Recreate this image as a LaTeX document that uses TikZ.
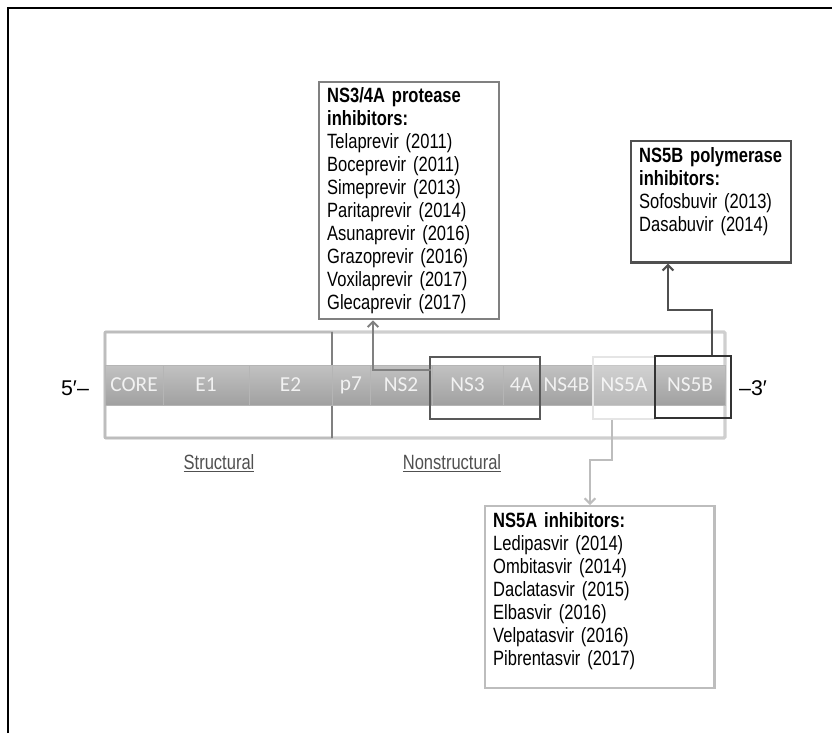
\documentclass[tikz,border=0pt]{standalone}
\usepackage{fontspec}
\setmainfont{Liberation Sans}
\newfontfamily\condfont[FakeStretch=0.8]{Liberation Sans}
\newfontfamily\genefont{Carlito}
\usetikzlibrary{arrows.meta}
\usetikzlibrary{positioning}
\definecolor{framegray}{HTML}{CFCFCF}
\definecolor{boxgray}{HTML}{808080}
\definecolor{darkgray}{HTML}{505050}
\definecolor{lightline}{HTML}{BDBDBD}
\newcommand{\tailgap}[1]{\rule[-#1]{0pt}{#1}}
\tikzset{
  drugbox/.style={
    draw, line width=1.8pt, anchor=north west, align=left,
    inner xsep=6pt, inner ysep=5pt,
    font=\condfont\fontsize{15.5}{17.25}\selectfont
  },
  seg/.style={
    minimum height=30pt, inner sep=0pt,
    top color=gray!48, bottom color=gray!74, draw=gray!58, line width=0.6pt,
    text=white!90!gray, font=\genefont\fontsize{16}{16}\selectfont
  },
  hlbox/.style={draw, minimum height=46.5pt, inner sep=0pt},
  link/.style={line width=1.5pt, -{Straight Barb[length=4pt,width=8pt]}},
  regiontext/.style={text=darkgray, font=\condfont\fontsize{15.5}{15.5}\selectfont}
}

\begin{document}
\begin{tikzpicture}[x=0.75pt, y=-0.75pt]
  \useasboundingbox (0,0) rectangle (832,733);

  % open frame
  \draw[line width=2pt] (8,733) -- (8,8) -- (832,8);

  % genome outline
  \draw[framegray, line width=2.5pt, rounded corners=1pt] (105,332) rectangle (725,438);
  \draw[lightline, line width=1.5pt] (105,332) rectangle (332,438);
  \draw[gray, line width=1.6pt] (332,332) -- (332,438);

  % gene segments
  \foreach \n/\t/\a/\b in {
    core/CORE/105/163,
    e1/E1/163/249,
    e2/E2/249/332,
    p7/p7/332/370,
    ns2/NS2/370/432,
    ns3/NS3/432/503,
    fourA/4A/503/540,
    ns4b/NS4B/540/593,
    ns5a/NS5A/593/655,
    ns5b/NS5B/655/725
  } {
    \node[seg, minimum width={(\b-\a)*0.75pt}] (\n) at ({(\a+\b)/2},385) {\t};
  }

  \node[font=\fontsize{16}{16}\selectfont] (five) at (75,388) {5′–};
  \node[font=\fontsize{16}{16}\selectfont] (three) at (753,388) {–3′};

  % highlighted targets
  \node[hlbox, draw=black!65, line width=0.9pt, minimum width=82.5pt] (ns34hl) at (485,388) {};
  \node[hlbox, draw=gray!20, line width=0.9pt, fill=white, fill opacity=0.25, minimum width=46.5pt] (ns5ahl) at (624,388) {};
  \node[hlbox, draw=black!80, line width=1.1pt, minimum width=57pt] (ns5bhl) at (693,387) {};

  \node[regiontext] (structural) at (219,463) {\underline{Structural}};
  \node[regiontext] (nonstructural) at (452,463) {\underline{Nonstructural}};

  % drug classes
  \node[drugbox, draw=boxgray, text width=123pt, inner ysep=4pt] (pi) at (318,81) {%
    \textbf{NS3/4A protease}\\
    \textbf{inhibitors:}\\
    Telaprevir (2011)\\
    Boceprevir (2011)\\
    Simeprevir (2013)\\
    Paritaprevir (2014)\\
    Asunaprevir (2016)\\
    Grazoprevir (2016)\\
    Voxilaprevir (2017)\\
    Glecaprevir (2017)};
  \node[drugbox, draw=darkgray, text width=108pt] (polym) at (630,140) {%
    \textbf{NS5B polymerase}\\
    \textbf{inhibitors:}\\
    Sofosbuvir (2013)\\
    Dasabuvir (2014)\tailgap{18pt}};
  \node[drugbox, draw=lightline, text width=160pt] (nsfive) at (484,505) {%
    \textbf{NS5A inhibitors:}\\
    Ledipasvir (2014)\\
    Ombitasvir (2014)\\
    Daclatasvir (2015)\\
    Elbasvir (2016)\\
    Velpatasvir (2016)\\
    Pibrentasvir (2017)\tailgap{11.5pt}};

  % connectors
  \coordinate (tapA) at (431,370);
  \coordinate (upA) at (373,0);
  \draw[link, boxgray] (tapA) -| (upA |- pi.south);

  \coordinate (tapB) at (712,0);
  \coordinate (turnB) at (668,310);
  \draw[link, darkgray] (tapB |- ns5bhl.north) |- (turnB) -- (turnB |- polym.south);

  \coordinate (tapC) at (612,0);
  \coordinate (turnC) at (590,460);
  \draw[link, lightline] (tapC |- ns5ahl.south) |- (turnC) -- (turnC |- nsfive.north);
\end{tikzpicture}
\end{document}
